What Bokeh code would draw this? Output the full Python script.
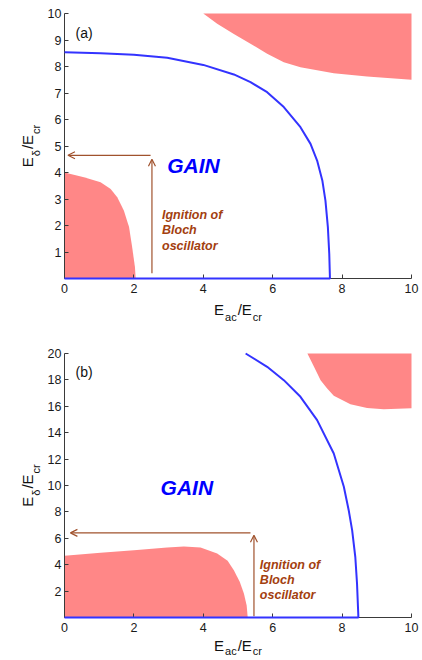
import math
from bokeh.plotting import figure
from bokeh.layouts import column
from bokeh.models import Range1d, FixedTicker, Label, Arrow, OpenHead
from bokeh.embed import file_html
from bokeh.resources import INLINE

# ---------------- data ----------------
x_ticks = [0, 2, 4, 6, 8, 10]
a_y_ticks = [1, 2, 3, 4, 5, 6, 7, 8, 9, 10]
b_y_ticks = [2, 4, 6, 8, 10, 12, 14, 16, 18, 20]

# panel (a)
a_low_x = [0.0, 0.56, 1.04, 1.33, 1.52, 1.71, 1.86, 1.95, 2.03, 2.05]
a_low_y = [4.0, 3.82, 3.63, 3.38, 3.07, 2.57, 1.94, 1.18, 0.43, 0.0]
a_high_x = [4.0, 4.4, 4.88, 5.36, 5.84, 6.32, 6.8, 7.76, 8.72, 10.0]
a_high_y = [10.0, 9.61, 9.23, 8.86, 8.48, 8.16, 7.97, 7.75, 7.62, 7.5]
a_gain_x = [0.0, 1.04, 2.0, 2.96, 4.0, 4.88, 5.36, 5.84, 6.32, 6.8, 7.09, 7.28, 7.43, 7.52, 7.59, 7.63, 7.65]
a_gain_y = [8.54, 8.5, 8.44, 8.33, 8.06, 7.7, 7.41, 7.03, 6.47, 5.71, 5.08, 4.45, 3.7, 2.94, 1.94, 0.93, 0.0]
a_arrow_up_x = [2.52, 2.52]
a_arrow_up_y = [0.2, 4.5]
a_arrow_left_x = [2.48, 0.1]
a_arrow_left_y = [4.65, 4.65]

# panel (b)
b_low_x = [0.0, 1.04, 2.0, 2.96, 3.44, 3.92, 4.4, 4.7, 4.88, 5.05, 5.17, 5.25, 5.28]
b_low_y = [4.67, 4.9, 5.1, 5.3, 5.37, 5.3, 4.85, 4.3, 3.58, 2.7, 1.82, 0.9, 0.0]
b_high_x = [7.0, 7.19, 7.38, 7.57, 7.76, 8.24, 8.72, 9.2, 10.0]
b_high_y = [20.0, 18.99, 17.98, 17.35, 16.8, 16.16, 15.88, 15.78, 15.85]
b_gain_x = [5.22, 5.84, 6.32, 6.8, 7.28, 7.76, 8.05, 8.19, 8.29, 8.38, 8.43, 8.47]
b_gain_y = [20.0, 18.99, 17.98, 16.72, 14.95, 12.42, 9.9, 8.13, 6.6, 4.6, 2.58, 0.0]
b_arrow_up_x = [5.46, 5.46]
b_arrow_up_y = [0.1, 6.23]
b_arrow_left_x = [5.36, 0.17]
b_arrow_left_y = [6.41, 6.41]

note_lines = ["Ignition of", "Bloch", "oscillator"]

# ---------------- styles / layout ----------------
FONT = "Liberation Sans"
PINK = "#ff8787"
BLUE = "#3333ff"
GAIN_BLUE = "#0000ff"
ARROW = "#a0522d"
NOTE = "#a3400f"
AXIS = "#3a3a3a"

FIG_W = 420
FRAME_L, FRAME_R = 64, 411   # pixel positions of x = 0 and x = 10

W = {'E': 0.667, 'a': 0.556, 'c': 0.5, 'r': 0.333, '/': 0.278, 'δ': 0.556}


def tw(s, size):
    return sum(W[ch] for ch in s) * size


def base_fig(height, top_px, bottom_px, ymax, yticks):
    xppu = (FRAME_R - FRAME_L) / 10.0
    yppu = (bottom_px - top_px) / ymax
    xr = Range1d(-FRAME_L / xppu, 10 + (FIG_W - FRAME_R) / xppu)
    yr = Range1d(-(height - bottom_px) / yppu, ymax + top_px / yppu)
    p = figure(width=FIG_W, height=height, output_backend="svg", toolbar_location=None,
               x_range=xr, y_range=yr,
               min_border_left=0, min_border_right=0, min_border_top=0, min_border_bottom=0)
    p.outline_line_color = None
    p.xgrid.visible = False
    p.ygrid.visible = False
    p.xaxis.ticker = FixedTicker(ticks=x_ticks)
    p.yaxis.ticker = FixedTicker(ticks=yticks)
    p.xaxis.fixed_location = 0
    p.yaxis.fixed_location = 0
    p.xaxis.bounds = (0, 10)
    p.yaxis.bounds = (0, ymax)
    for ax in (p.xaxis[0], p.yaxis[0]):
        ax.axis_line_color = AXIS
        ax.major_tick_line_color = AXIS
        ax.major_tick_in = 4
        ax.major_tick_out = 0
        ax.minor_tick_line_color = None
        ax.major_label_text_font = FONT
        ax.major_label_text_font_size = "12.5px"
        ax.major_label_text_color = "#1a1a1a"
    p.xaxis.major_label_standoff = 5
    p.yaxis.major_label_standoff = 3
    return p


def add_xlabel(p, base, drop):
    pieces = [("E", 15, 0), ("ac", 11, 1), ("/E", 15, 0), ("cr", 11, 1)]
    gap = 1
    total = sum(tw(t, s) for t, s, _ in pieces) + gap * (len(pieces) - 1)
    off = -total / 2
    for t, s, sub in pieces:
        p.add_layout(Label(x=5, y=0, text=t, x_offset=off, y_offset=-(base + sub * drop),
                           text_align="left", text_baseline="alphabetic",
                           text_font=FONT, text_font_size=f"{s}px", text_color="#111111"))
        off += tw(t, s) + gap


def add_ylabel(p, yc, base, drop):
    pieces = [("E", 15, 0), ("δ", 11, 1), ("/E", 15, 0), ("cr", 11, 1)]
    gap = 1
    total = sum(tw(t, s) for t, s, _ in pieces) + gap * (len(pieces) - 1)
    off = -total / 2
    for t, s, sub in pieces:
        p.add_layout(Label(x=0, y=yc, text=t, x_offset=-base + sub * drop, y_offset=off,
                           angle=math.pi / 2, text_align="left", text_baseline="alphabetic",
                           text_font=FONT, text_font_size=f"{s}px", text_color="#111111"))
        off += tw(t, s) + gap


def decorate(p, low_x, low_y, high_x, high_y, ymax, gain_x, gain_y,
             up_x, up_y, left_x, left_y, tag, tag_pos, gain_pos, note_pos, note_step):
    p.varea(x=low_x, y1=[0] * len(low_x), y2=low_y, fill_color=PINK)
    p.varea(x=high_x, y1=high_y, y2=[ymax] * len(high_x), fill_color=PINK)
    # blue boundary of the gain region, running back along E_delta = 0
    p.line(x=gain_x + [0.0], y=gain_y + [0.0], line_color=BLUE, line_width=2, level="overlay")
    p.add_layout(Arrow(x_start=up_x[0], y_start=up_y[0], x_end=up_x[1], y_end=up_y[1],
                       end=OpenHead(size=7, line_color=ARROW, line_width=1.2),
                       line_color=ARROW, line_width=1.2))
    p.add_layout(Arrow(x_start=left_x[0], y_start=left_y[0], x_end=left_x[1], y_end=left_y[1],
                       end=OpenHead(size=7, line_color=ARROW, line_width=1.2),
                       line_color=ARROW, line_width=1.2))
    p.add_layout(Label(x=tag_pos[0], y=tag_pos[1], text=tag, text_baseline="middle",
                       text_font=FONT, text_font_size="14px", text_color="#111111"))
    p.add_layout(Label(x=gain_pos[0], y=gain_pos[1], text="GAIN", text_baseline="middle",
                       text_font=FONT, text_font_size="21px", text_font_style="bold italic",
                       text_color=GAIN_BLUE))
    for i, line in enumerate(note_lines):
        p.add_layout(Label(x=note_pos[0], y=note_pos[1], y_offset=-i * note_step, text=line,
                           text_baseline="middle", text_font=FONT, text_font_size="12.5px",
                           text_font_style="bold italic", text_color=NOTE))


pa = base_fig(330, 13, 278, 10, a_y_ticks)
decorate(pa, a_low_x, a_low_y, a_high_x, a_high_y, 10, a_gain_x, a_gain_y,
         a_arrow_up_x, a_arrow_up_y, a_arrow_left_x, a_arrow_left_y,
         "(a)", (0.32, 9.25), (2.96, 4.26), (2.81, 2.41), 15.8)
add_xlabel(pa, 31, 7)
add_ylabel(pa, 5, 37, 8)

pb = base_fig(328, 23, 287, 20, b_y_ticks)
decorate(pb, b_low_x, b_low_y, b_high_x, b_high_y, 20, b_gain_x, b_gain_y,
         b_arrow_up_x, b_arrow_up_y, b_arrow_left_x, b_arrow_left_y,
         "(b)", (0.32, 18.6), (2.77, 9.85), (5.63, 4.0), 15)
add_xlabel(pb, 28, 5)
add_ylabel(pb, 10, 37, 8)

layout = column(pa, pb, spacing=0)
open("out.html", "w").write(file_html(layout, INLINE))
